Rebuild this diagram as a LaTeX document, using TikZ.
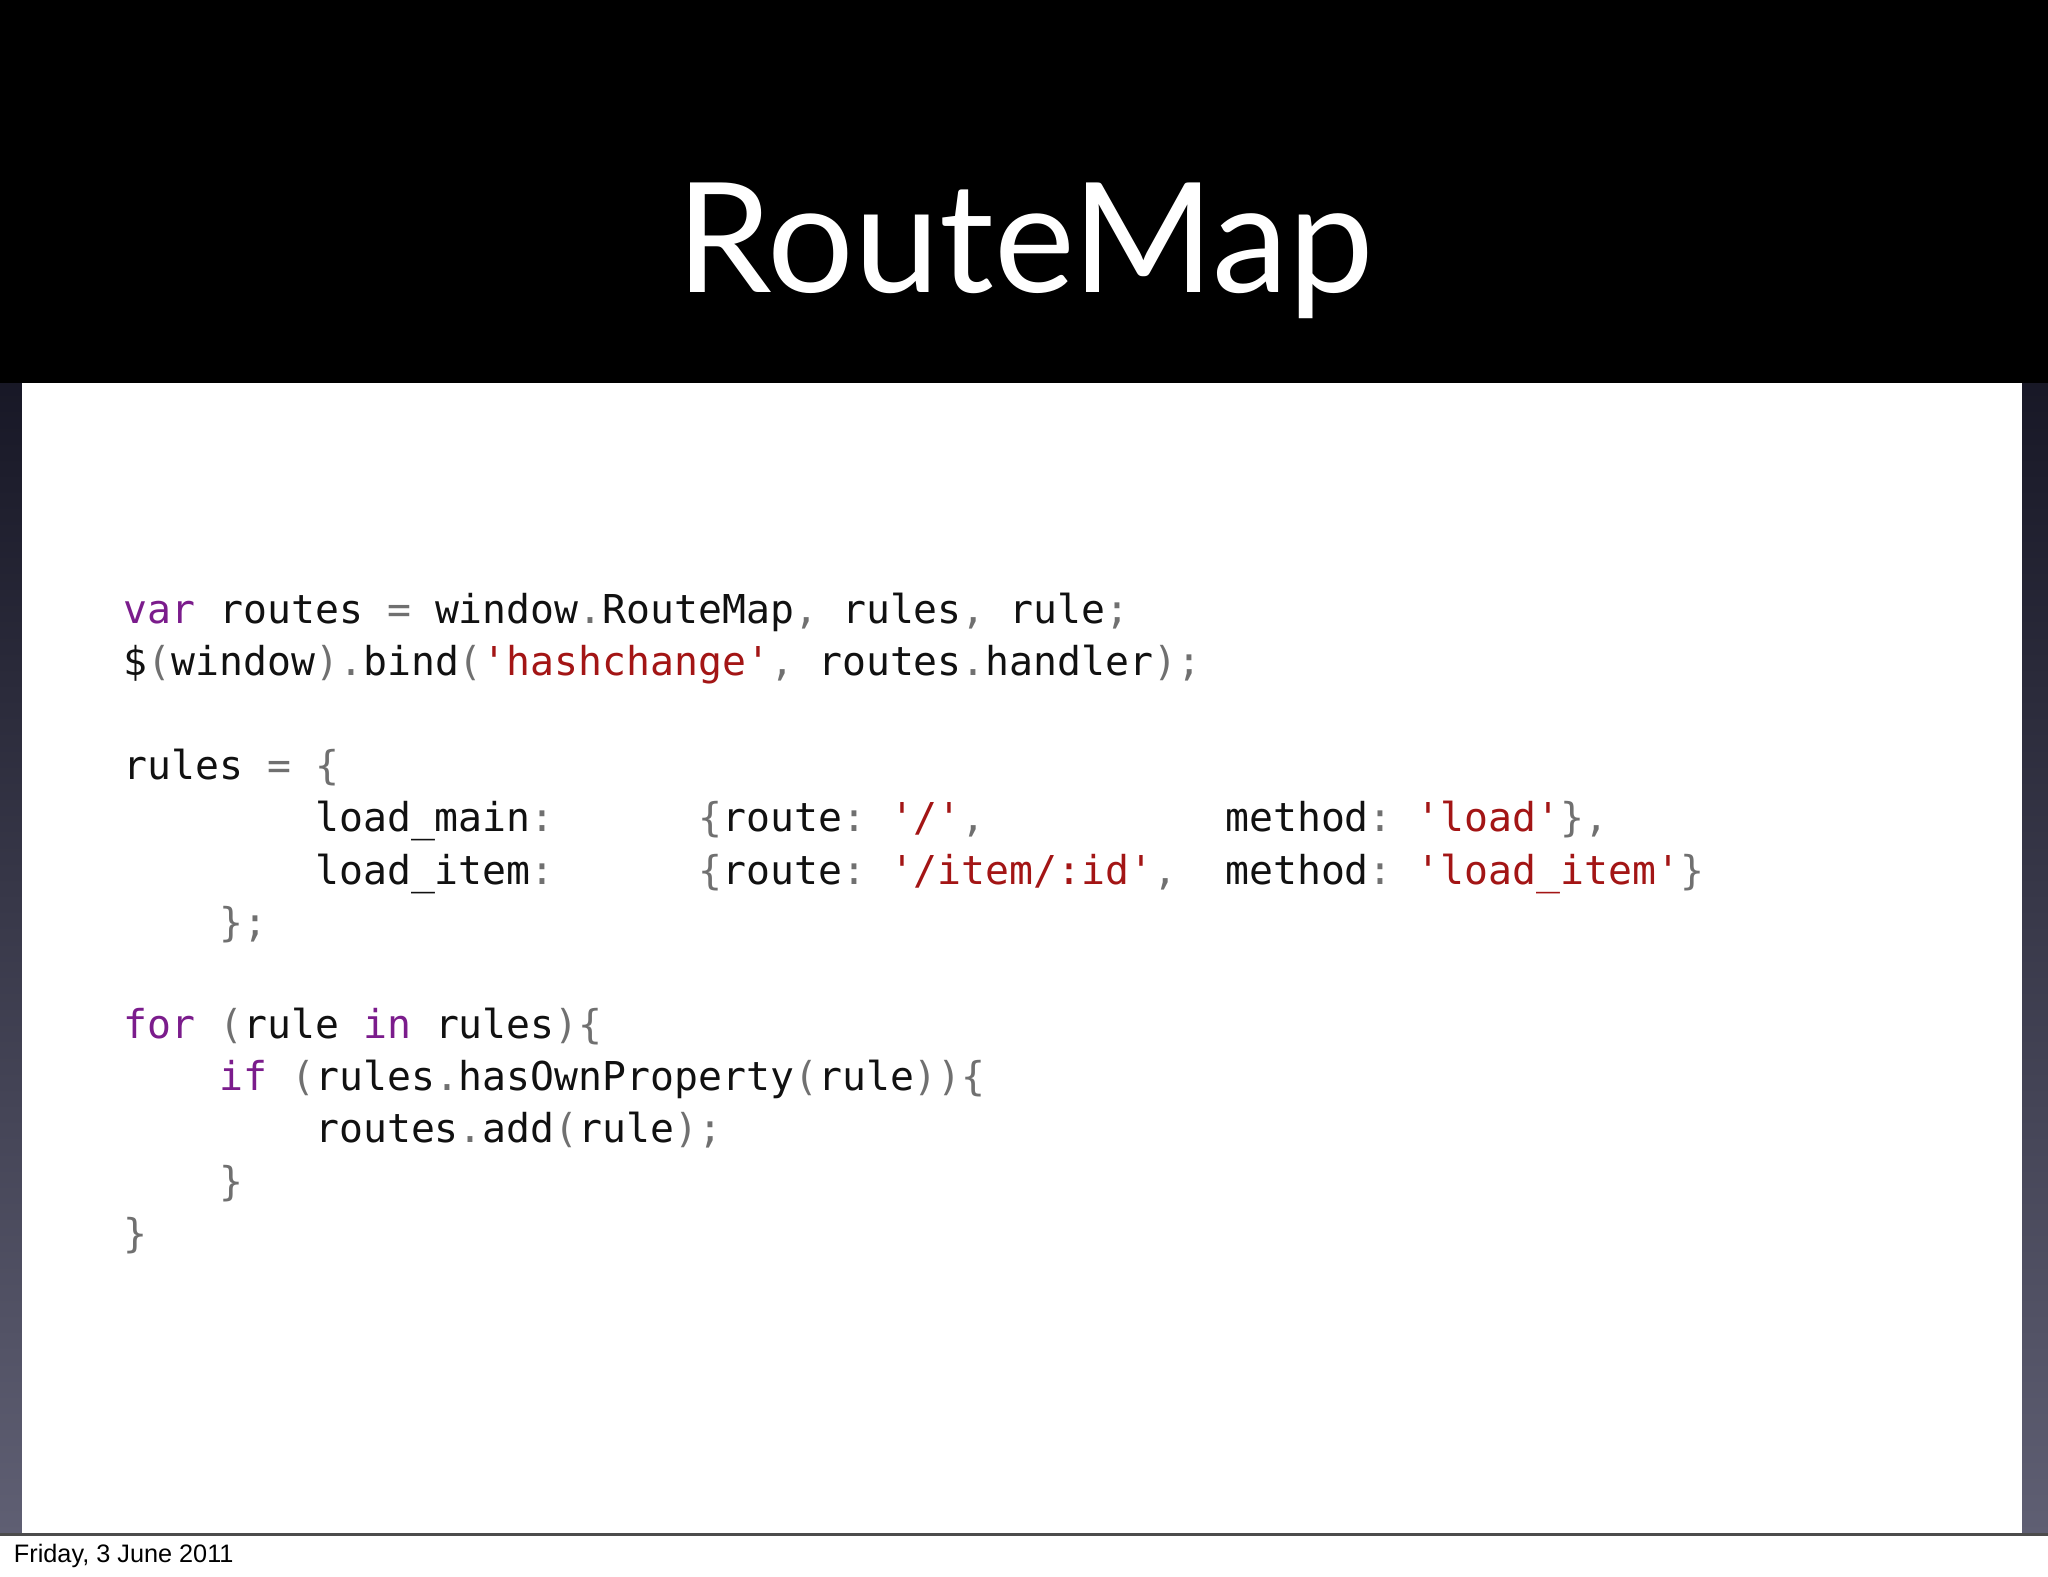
\documentclass[tikz,border=0pt]{standalone}
\usepackage{fontspec}
\setmonofont{DejaVu Sans Mono}
\newfontfamily\titlefont{Lato}
\newfontfamily\datefont{Liberation Sans}
\definecolor{kw}{HTML}{7B1C8C}
\definecolor{str}{HTML}{A31515}
\definecolor{pn}{HTML}{707070}
\definecolor{txt}{HTML}{111111}
\newcommand{\K}[1]{\textcolor{kw}{#1}}
\newcommand{\Ss}[1]{\textcolor{str}{#1}}
\newcommand{\Pp}[1]{\textcolor{pn}{#1}}
\begin{document}
\begin{tikzpicture}[x=0.01cm,y=-0.01cm,
  code/.style={anchor=base west,inner sep=0,font=\ttfamily\fontsize{8.66pt}{10pt}\selectfont,text=txt}]
\useasboundingbox (0,0) rectangle (1568,1207);
\shade[top color=black!95!blue, bottom color={rgb,255:red,95;green,95;blue,115}] (0,0) rectangle (1568,1175);
\fill[black] (0,0) rectangle (1568,293);
\fill[white] (17,293) rectangle (1548,1175);
\fill[white] (0,1175) rectangle (1568,1207);
\draw[black!70,line width=0.6pt] (0,1175) -- (1568,1175);
\node[anchor=base west,inner sep=0,font=\datefont\fontsize{5.5pt}{7pt}\selectfont] (date) at (10,1196) {Friday, 3 June 2011};
\node[anchor=base,inner sep=0,text=white,font=\titlefont\fontsize{33.3pt}{36pt}\selectfont] (title) at (785,224) {RouteMap};
\node[code] (l1) at (94,477) {\K{var} routes \Pp{=} window\Pp{.}RouteMap\Pp{,} rules\Pp{,} rule\Pp{;}};
\node[code] (l2) at (94,517) {\$\Pp{(}window\Pp{).}bind\Pp{(}\Ss{'hashchange'}\Pp{,} routes\Pp{.}handler\Pp{);}};
\node[code] (l3) at (94,597) {rules \Pp{=} \Pp{\{}};
\node[code] (l4) at (94,637) {~~~~~~~~load\_main\Pp{:}~~~~~~\Pp{\{}route\Pp{:} \Ss{'/'}\Pp{,}~~~~~~~~~~method\Pp{:} \Ss{'load'}\Pp{\},}};
\node[code] (l5) at (94,677) {~~~~~~~~load\_item\Pp{:}~~~~~~\Pp{\{}route\Pp{:} \Ss{'/item/:id'}\Pp{,}~~method\Pp{:} \Ss{'load\_item'}\Pp{\}}};
\node[code] (l6) at (94,717) {~~~~\Pp{\};}};
\node[code] (l7) at (94,795) {\K{for} \Pp{(}rule \K{in} rules\Pp{)\{}};
\node[code] (l8) at (94,835) {~~~~\K{if} \Pp{(}rules\Pp{.}hasOwnProperty\Pp{(}rule\Pp{))\{}};
\node[code] (l9) at (94,875) {~~~~~~~~routes\Pp{.}add\Pp{(}rule\Pp{);}};
\node[code] (l10) at (94,915) {~~~~\Pp{\}}};
\node[code] (l11) at (94,955) {\Pp{\}}};
\end{tikzpicture}
\end{document}
